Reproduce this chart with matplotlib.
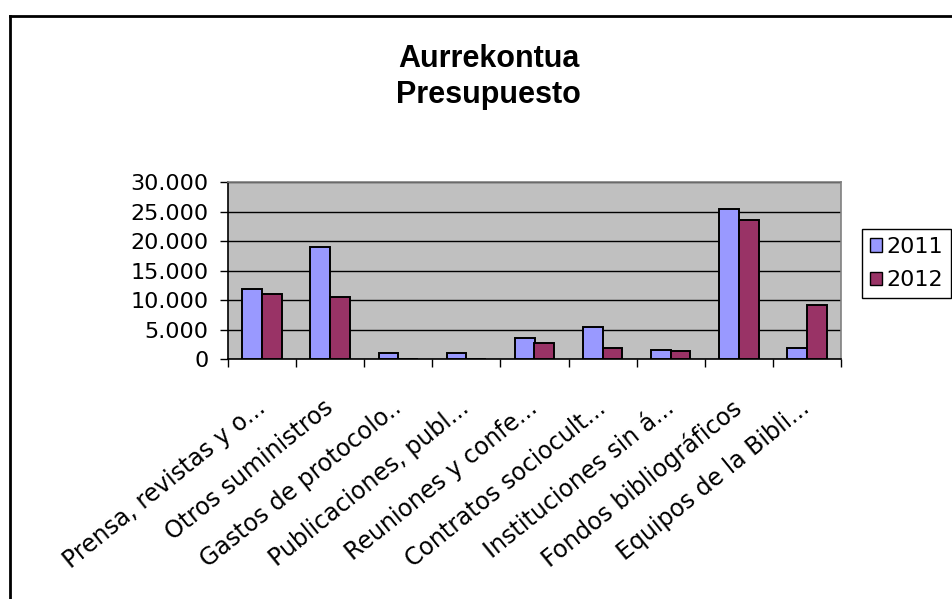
import matplotlib
matplotlib.use("Agg")
import matplotlib.pyplot as plt
import numpy as np
from matplotlib.lines import Line2D
from matplotlib.patches import Patch
from matplotlib.ticker import FuncFormatter, FixedLocator

plt.rcParams['font.family'] = ['DejaVu Sans']

categories = ["Prensa, revistas y o...", "Otros suministros", "Gastos de protocolo..",
              "Publicaciones, publ...", "Reuniones y confe...", "Contratos sociocult...",
              "Instituciones sin á...", "Fondos bibliográficos", "Equipos de la Bibli..."]
series_names = ["2011", "2012"]
values_2011 = [11900, 19000, 1100, 1100, 3500, 5400, 1600, 25400, 1900]
values_2012 = [11100, 10500, 0, 0, 2700, 1900, 1300, 23600, 9200]
colors = ["#9999FF", "#993366"]
yticks = [0, 5000, 10000, 15000, 20000, 25000, 30000]
title_lines = ["Aurrekontua", "Presupuesto"]

W, H = 953, 599
fig = plt.figure(figsize=(W / 100, H / 100), dpi=100)

# axes placement (pixels)
L, R, T, B = 228, 841, 182, 359
ax = fig.add_axes([L / W, 1 - B / H, (R - L) / W, (B - T) / H])
ax.set_facecolor("#C0C0C0")

x = np.arange(len(categories))
bw = 0.29
ax.bar(x - bw / 2, values_2011, bw, color=colors[0], edgecolor="black", linewidth=1.4, zorder=3, label=series_names[0])
ax.bar(x + bw / 2, values_2012, bw, color=colors[1], edgecolor="black", linewidth=1.4, zorder=3, label=series_names[1])

ax.set_xlim(-0.5, len(categories) - 0.5)
ax.set_ylim(0, 30000)
ax.set_yticks(yticks)
ax.yaxis.set_major_formatter(FuncFormatter(lambda v, p: f"{int(v):,}".replace(",", ".")))
ax.yaxis.grid(True, color="black", linewidth=1.0, zorder=1)
ax.set_axisbelow(True)

ax.set_xticks(x)
ax.set_xticklabels(categories, rotation=39, ha="right", va="center", rotation_mode="anchor", fontsize=17)
ax.tick_params(axis="x", which="major", length=0, pad=33)
ax.xaxis.set_minor_locator(FixedLocator(np.arange(-0.5, len(categories), 1.0)))
ax.tick_params(axis="x", which="minor", length=6, width=1, color="black", direction="out")
ax.tick_params(axis="y", length=6, width=1, color="black", direction="out", labelsize=16, pad=8)

for s in ["top", "right"]:
    ax.spines[s].set_color("#808080")
    ax.spines[s].set_linewidth(1.2)
for s in ["left", "bottom"]:
    ax.spines[s].set_color("black")
    ax.spines[s].set_linewidth(1.2)

# title
tfont = ['Liberation Sans', 'DejaVu Sans']
fig.text(488.5 / W, 1 - 67 / H, title_lines[0], ha="center", va="baseline", fontsize=22, fontweight="bold", family=tfont)
fig.text(488.5 / W, 1 - 103 / H, title_lines[1], ha="center", va="baseline", fontsize=22, fontweight="bold", family=tfont)

# legend
handles = [Patch(facecolor=colors[i], edgecolor="black", linewidth=1.0) for i in range(2)]
leg = fig.legend(handles, series_names, loc="upper left", bbox_to_anchor=(862 / W, 1 - 229 / H),
                 fontsize=16, frameon=True, fancybox=False, edgecolor="black", framealpha=1,
                 handlelength=0.55, handleheight=0.55, handletextpad=0.2, labelspacing=0.6,
                 borderpad=0.35, borderaxespad=0)
leg.get_frame().set_linewidth(1.0)

# chart border (left and top visible)
fig.add_artist(Line2D([10 / W, 10 / W], [0, 1 - 16 / H], color="black", linewidth=2, transform=fig.transFigure))
fig.add_artist(Line2D([10 / W, 1], [1 - 16 / H, 1 - 16 / H], color="black", linewidth=2, transform=fig.transFigure))

fig.savefig("out.png", dpi=100)
